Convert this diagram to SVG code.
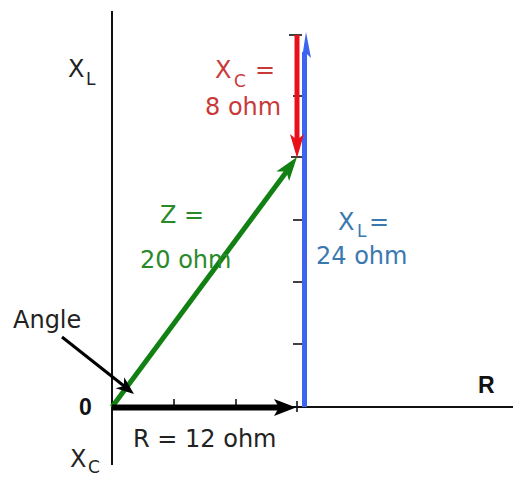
<svg xmlns="http://www.w3.org/2000/svg" width="513" height="479" viewBox="0 0 513 479">
<style>
text { font-family: "DejaVu Sans", "Liberation Sans", sans-serif; font-size: 24px; }
.sub { font-size: 17px; }
.blk { fill: #222; }
.red { fill: #c83a3a; }
.grn { fill: #2a8a2a; }
.blu { fill: #3a78b0; }
.bold { font-family: "Liberation Sans", Arial, sans-serif; font-weight: bold; font-size: 23px; fill: #111; }
.axis { stroke: #111; stroke-width: 2; fill: none; }
.tick { stroke: #111; stroke-width: 1.6; fill: none; }
</style>
<rect width="513" height="479" fill="#fff"/>
<g id="axes">
  <line class="axis" x1="112" y1="11" x2="112" y2="465"/>
  <line class="axis" x1="112" y1="407" x2="513" y2="407"/>
  <line class="tick" x1="174" y1="399" x2="174" y2="407"/>
  <line class="tick" x1="236" y1="399" x2="236" y2="407"/>
  <line class="tick" x1="297" y1="401" x2="297" y2="412"/>
  <line class="tick" x1="289" y1="35" x2="302" y2="35"/>
  <line class="tick" x1="293" y1="96" x2="302" y2="96"/>
  <line class="tick" x1="291" y1="157" x2="302" y2="157"/>
  <line class="tick" x1="293" y1="220" x2="302" y2="220"/>
  <line class="tick" x1="293" y1="282" x2="302" y2="282"/>
  <line class="tick" x1="293" y1="344" x2="302" y2="344"/>
</g>
<g id="connectors">
  <g id="xl-vector">
    <line x1="304.5" y1="407" x2="304.5" y2="52" stroke="#3c64f0" stroke-width="5"/>
    <polygon points="306,32 311,58 306,53 302,58" fill="#3c64f0"/>
  </g>
  <g id="xc-vector">
    <line x1="297" y1="35" x2="297" y2="142" stroke="#e8101a" stroke-width="5"/>
    <polygon points="297,158 290,134 297,140 304,134" fill="#e8101a"/>
  </g>
  <g id="z-vector">
    <line x1="112" y1="407" x2="287" y2="171" stroke="#128012" stroke-width="5"/>
    <polygon points="297,157 289.1,181.1 286.3,171.5 276.3,171.5" fill="#128012"/>
  </g>
  <g id="r-vector">
    <line x1="112" y1="407.5" x2="280" y2="407.5" stroke="#000" stroke-width="6"/>
    <polygon points="296,407.5 274,399 279,407.5 274,416" fill="#000"/>
  </g>
  <g id="angle-arrow">
    <line x1="62" y1="337" x2="124" y2="386" stroke="#000" stroke-width="3"/>
    <polygon points="134,394 115.6,388.3 123.8,385.9 124.2,377.3" fill="#000"/>
  </g>
</g>
<g id="label-xl-axis">
  <text class="blk" x="68" y="77">X</text><text class="blk sub" x="86" y="85">L</text>
</g>
<g id="label-xc-vector">
  <text class="red" x="215" y="78">X</text><text class="red sub" x="234" y="87">C</text><text class="red" x="255" y="78">=</text>
  <text class="red" x="205" y="115">8 ohm</text>
</g>
<g id="label-z">
  <text class="grn" x="160" y="223">Z =</text>
  <text class="grn" x="140" y="268">20 ohm</text>
</g>
<g id="label-xl-vector">
  <text class="blu" x="338" y="230">X</text><text class="blu sub" x="357" y="237">L</text><text class="blu" x="369" y="230">=</text>
  <text class="blu" x="316" y="264">24 ohm</text>
</g>
<g id="label-angle">
  <text class="blk" x="13" y="328">Angle</text>
</g>
<g id="label-origin">
  <text class="bold" x="79" y="415">0</text>
</g>
<g id="label-r-axis">
  <text class="bold" x="478" y="393">R</text>
</g>
<g id="label-r-vector">
  <text class="blk" x="133" y="447">R = 12 ohm</text>
</g>
<g id="label-xc-axis">
  <text class="blk" x="70" y="467">X</text><text class="blk sub" x="88" y="473">C</text>
</g>
</svg>
